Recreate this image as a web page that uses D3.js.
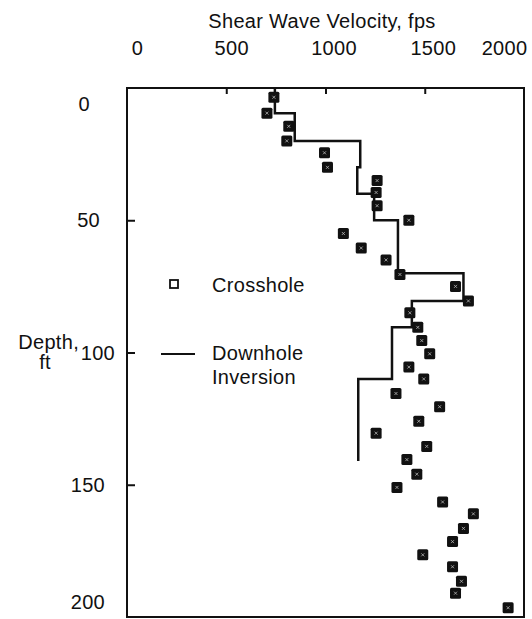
<!DOCTYPE html>
<html>
<head>
<meta charset="utf-8">
<script src="https://cdn.jsdelivr.net/npm/d3@7"></script>
<style>
  html, body { margin: 0; padding: 0; background: #fff; }
  text { font-family: "Liberation Sans", Arial, Helvetica, sans-serif; fill: #111; letter-spacing: 0.3px; }
</style>
</head>
<body>
<svg id="chart" width="532" height="619"></svg>
<script>
// ---- data ----
const crossDepth = [3.5, 9.5, 14.5, 20, 24.5, 30, 35, 39.5, 44.5, 50, 55, 60.5, 65, 70.5, 75, 80.5, 85, 90.5, 95.5, 100.5,
                    105.5, 110, 115.5, 120.5, 126, 130.5, 135.5, 140.5, 146, 151, 156.5, 161, 166.5, 171.5, 176.5, 181, 186.5, 191, 196.5];
const crossVel   = [740, 705, 815, 805, 995, 1010, 1260, 1255, 1260, 1420, 1090, 1180, 1305, 1375, 1655, 1720, 1425, 1465, 1485, 1525,
                    1420, 1495, 1355, 1575, 1470, 1255, 1510, 1410, 1460, 1360, 1590, 1745, 1695, 1640, 1490, 1640, 1685, 1655, 1920];
const layerTop    = [0, 9.5, 20, 30, 40, 50, 70, 80.5, 90.5, 110];
const layerBottom = [9.5, 20, 30, 40, 50, 70, 80.5, 90.5, 110, 141];
const layerVel    = [745, 845, 1175, 1160, 1245, 1365, 1695, 1435, 1335, 1165];
const xTicks = [0, 500, 1000, 1500, 2000];
const yTicks = [0, 50, 100, 150, 200];
const xTitle = "Shear Wave Velocity, fps";
const yTitle = ["Depth,", "ft"];
const legendLabels = ["Crosshole", ["Downhole", "Inversion"]];

// ---- layout ----
const svg = d3.select("#chart");
const x = d3.scaleLinear().domain([0, 2000]).range([127, 524]);
const y = d3.scaleLinear().domain([0, 200]).range([88, 617]);
const FS = 20;

// top axis
const xAxis = d3.axisTop(x).tickValues(xTicks).tickSize(-6).tickPadding(33).tickFormat(d3.format("d"));
const gx = svg.append("g").attr("transform", `translate(0,${y(0)})`).call(xAxis);
gx.select(".domain").remove();
gx.selectAll(".tick line").attr("stroke", "#111").attr("stroke-width", 2)
  .filter(d => d === 0 || d === 2000).remove();
const xLabelShift = {0: 10, 500: 5, 1000: 8, 1500: 8, 2000: -20};
gx.selectAll(".tick text").attr("font-size", FS).attr("fill", "#111")
  .attr("dx", d => xLabelShift[d]);

// left axis
const yAxis = d3.axisLeft(y).tickValues(yTicks).tickSize(-8).tickPadding(12).tickFormat(d3.format("d"));
const gy = svg.append("g").attr("transform", `translate(${x(0)},0)`).call(yAxis);
gy.select(".domain").remove();
gy.selectAll(".tick line").attr("stroke", "#111").attr("stroke-width", 2)
  .filter(d => d === 0 || d === 200).remove();
const yLabelShift = {0: [-25, 15], 50: [-15, -1], 100: [0, 0], 150: [-10, 0], 200: [-10, -16]};
gy.selectAll(".tick text").attr("font-size", FS).attr("fill", "#111")
  .attr("dx", d => yLabelShift[d][0]).attr("dy", d => (yLabelShift[d][1] + FS * 0.35));

// frame
svg.append("rect").attr("x", x(0)).attr("y", y(0))
  .attr("width", x(2000) - x(0)).attr("height", y(200) - y(0))
  .attr("fill", "none").attr("stroke", "#111").attr("stroke-width", 2);

// titles
svg.append("text").attr("x", 322).attr("y", 28).attr("text-anchor", "middle")
  .attr("font-size", FS).text(xTitle);
svg.append("text").attr("x", 79).attr("y", 349).attr("text-anchor", "end")
  .attr("font-size", FS).text(yTitle[0]);
svg.append("text").attr("x", 45).attr("y", 369).attr("text-anchor", "middle")
  .attr("font-size", FS).text(yTitle[1]);

// downhole step line
const stepPts = [];
layerVel.forEach((v, i) => { stepPts.push([v, layerTop[i]]); stepPts.push([v, layerBottom[i]]); });
svg.append("path").datum(stepPts)
  .attr("d", d3.line().x(d => x(d[0])).y(d => y(d[1])))
  .attr("fill", "none").attr("stroke", "#111").attr("stroke-width", 2.5);

// crosshole squares (dark, with a light speck as in the scanned figure)
const S = 11;
const pts = crossVel.map((v, i) => [v, crossDepth[i]]);
const gp = svg.append("g");
gp.selectAll("rect.sq").data(pts).join("rect").attr("class", "sq")
  .attr("x", d => x(d[0]) - S / 2).attr("y", d => y(d[1]) - S / 2)
  .attr("width", S).attr("height", S).attr("rx", 1.5)
  .attr("fill", "#111");
gp.selectAll("path.sp").data(pts).join("path").attr("class", "sp")
  .attr("d", d => `M${x(d[0]) - 1.5},${y(d[1]) - 1.5}L${x(d[0]) + 1.5},${y(d[1]) + 1.5}M${x(d[0]) + 1.5},${y(d[1]) - 1.5}L${x(d[0]) - 1.5},${y(d[1]) + 1.5}`)
  .attr("stroke", "#fff").attr("stroke-width", 0.8).attr("opacity", 0.7);

// legend
svg.append("rect").attr("x", 170).attr("y", 280).attr("width", 8).attr("height", 8)
  .attr("fill", "#fff").attr("stroke", "#111").attr("stroke-width", 1.8);
svg.append("text").attr("x", 212).attr("y", 292).attr("font-size", FS).text(legendLabels[0]);
svg.append("line").attr("x1", 161).attr("x2", 195).attr("y1", 354).attr("y2", 354)
  .attr("stroke", "#111").attr("stroke-width", 2);
svg.append("text").attr("x", 212).attr("y", 360).attr("font-size", FS).text(legendLabels[1][0]);
svg.append("text").attr("x", 212).attr("y", 384).attr("font-size", FS).text(legendLabels[1][1]);
</script>
</body>
</html>
